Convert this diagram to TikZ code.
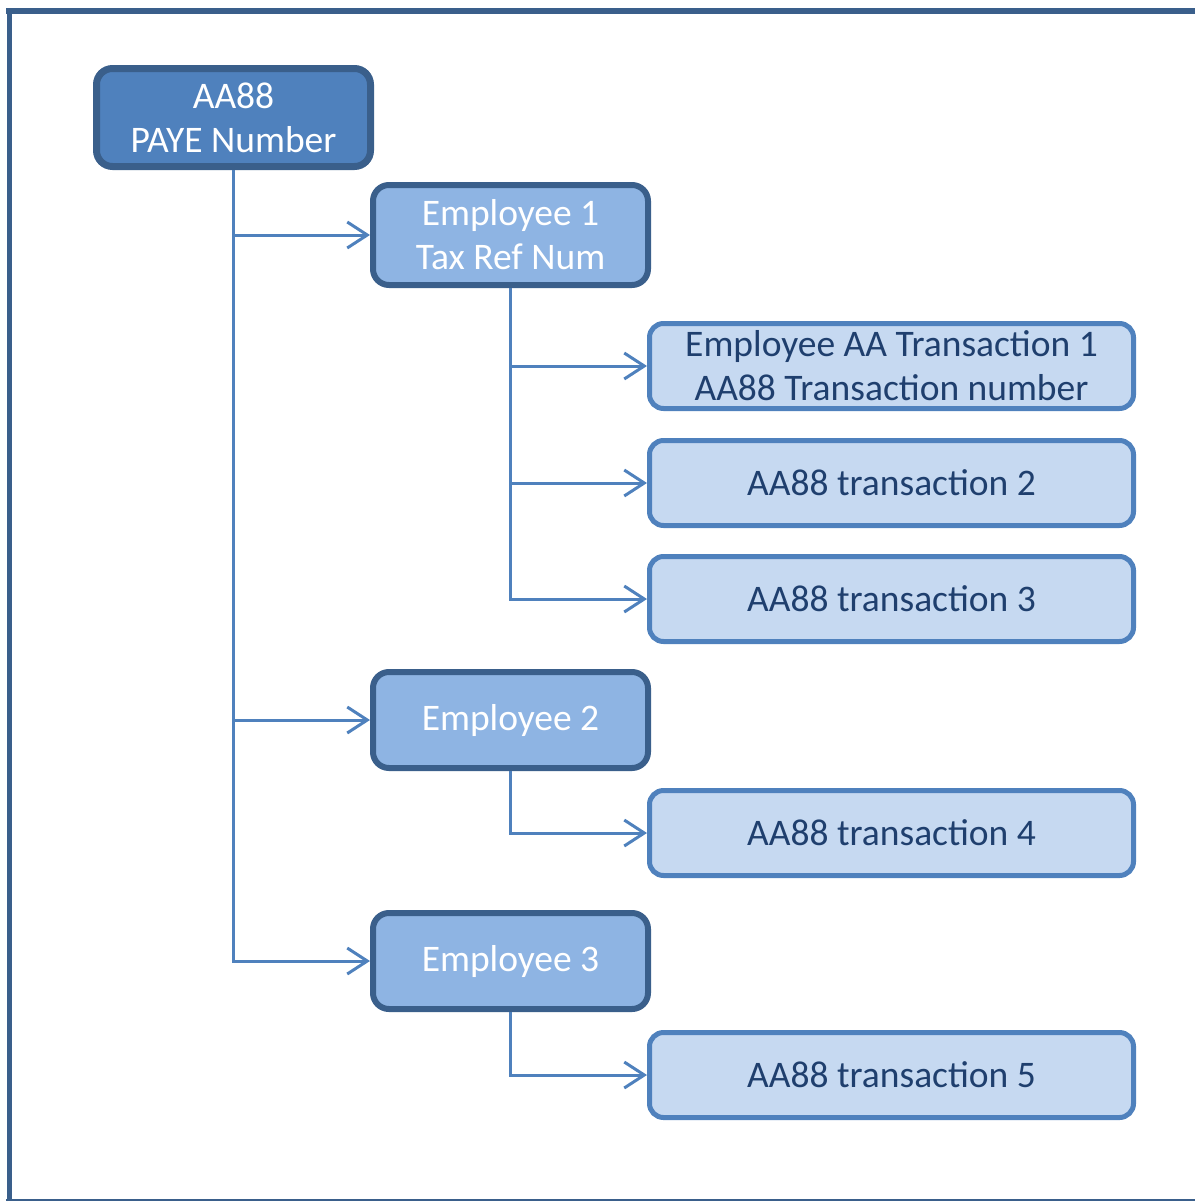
\documentclass[tikz,border=0pt]{standalone}
\usepackage{fontspec}
\setmainfont{Carlito}
\usetikzlibrary{arrows.meta}
\definecolor{frameblue}{HTML}{3A5F8B}
\definecolor{rootfill}{HTML}{4F81BD}
\definecolor{empfill}{HTML}{8EB4E3}
\definecolor{transfill}{HTML}{C6D9F1}
\definecolor{linkblue}{HTML}{4F81BD}
\definecolor{textblue}{HTML}{1F3F6E}
\newcommand{\boxfont}{\fontsize{37.5}{44}\selectfont}

\begin{document}
\begin{tikzpicture}[x=1pt,y=-1pt,
    rootbox/.style={draw=frameblue,fill=rootfill,line width=7pt,rounded corners=16pt,
        minimum width=274pt,minimum height=98pt,align=center,text=white,font=\boxfont,inner sep=0pt},
    empbox/.style={draw=frameblue,fill=empfill,line width=6pt,rounded corners=16pt,
        minimum width=275pt,minimum height=96pt,align=center,text=white,font=\boxfont,inner sep=0pt},
    transbox/.style={draw=linkblue,fill=transfill,line width=5pt,rounded corners=14pt,
        minimum width=484pt,minimum height=85pt,align=center,text=textblue,font=\boxfont,inner sep=0pt},
    link/.style={draw=linkblue,line width=3pt,-{Straight Barb[length=20pt,width=26pt,line width=3pt]}}]

        \useasboundingbox (0,0) rectangle (1195,1202);

        % Draw the outer frame (open on the right)
        \draw[frameblue,line width=2pt] (6,1200) -- (1195,1200);
        \draw[frameblue,line width=5pt] (9,1201) -- (9,9);
        \draw[frameblue,line width=6pt] (6,11) -- (1195,11);

        % PAYE number and the employees
        \node[rootbox] (paye) at (233.5,117.5) {AA88\\ PAYE Number};
        \node[empbox,minimum height=100pt] (emp1) at (510.5,235) {Employee 1\\Tax Ref Num};
        \node[empbox] (emp2) at (510.5,720) {Employee 2};
        \node[empbox] (emp3) at (510.5,961) {Employee 3};

        % Transactions
        \node[transbox] (tr1) at (891.5,366) {Employee AA Transaction 1\\AA88 Transaction number};
        \node[transbox] (tr2) at (891.5,483) {AA88 transaction 2};
        \node[transbox] (tr3) at (891.5,599) {AA88 transaction 3};
        \node[transbox] (tr4) at (891.5,833) {AA88 transaction 4};
        \node[transbox] (tr5) at (891.5,1075) {AA88 transaction 5};

        % Connectors
        \draw[link] (paye.south) |- (emp1.west);
        \draw[link] (paye.south) |- (emp2.west);
        \draw[link] (paye.south) |- (emp3.west);
        \draw[link] (emp1.south) |- (tr1.west);
        \draw[link] (emp1.south) |- (tr2.west);
        \draw[link] (emp1.south) |- (tr3.west);
        \draw[link] (emp2.south) |- (tr4.west);
        \draw[link] (emp3.south) |- (tr5.west);
    \end{tikzpicture}
\end{document}
